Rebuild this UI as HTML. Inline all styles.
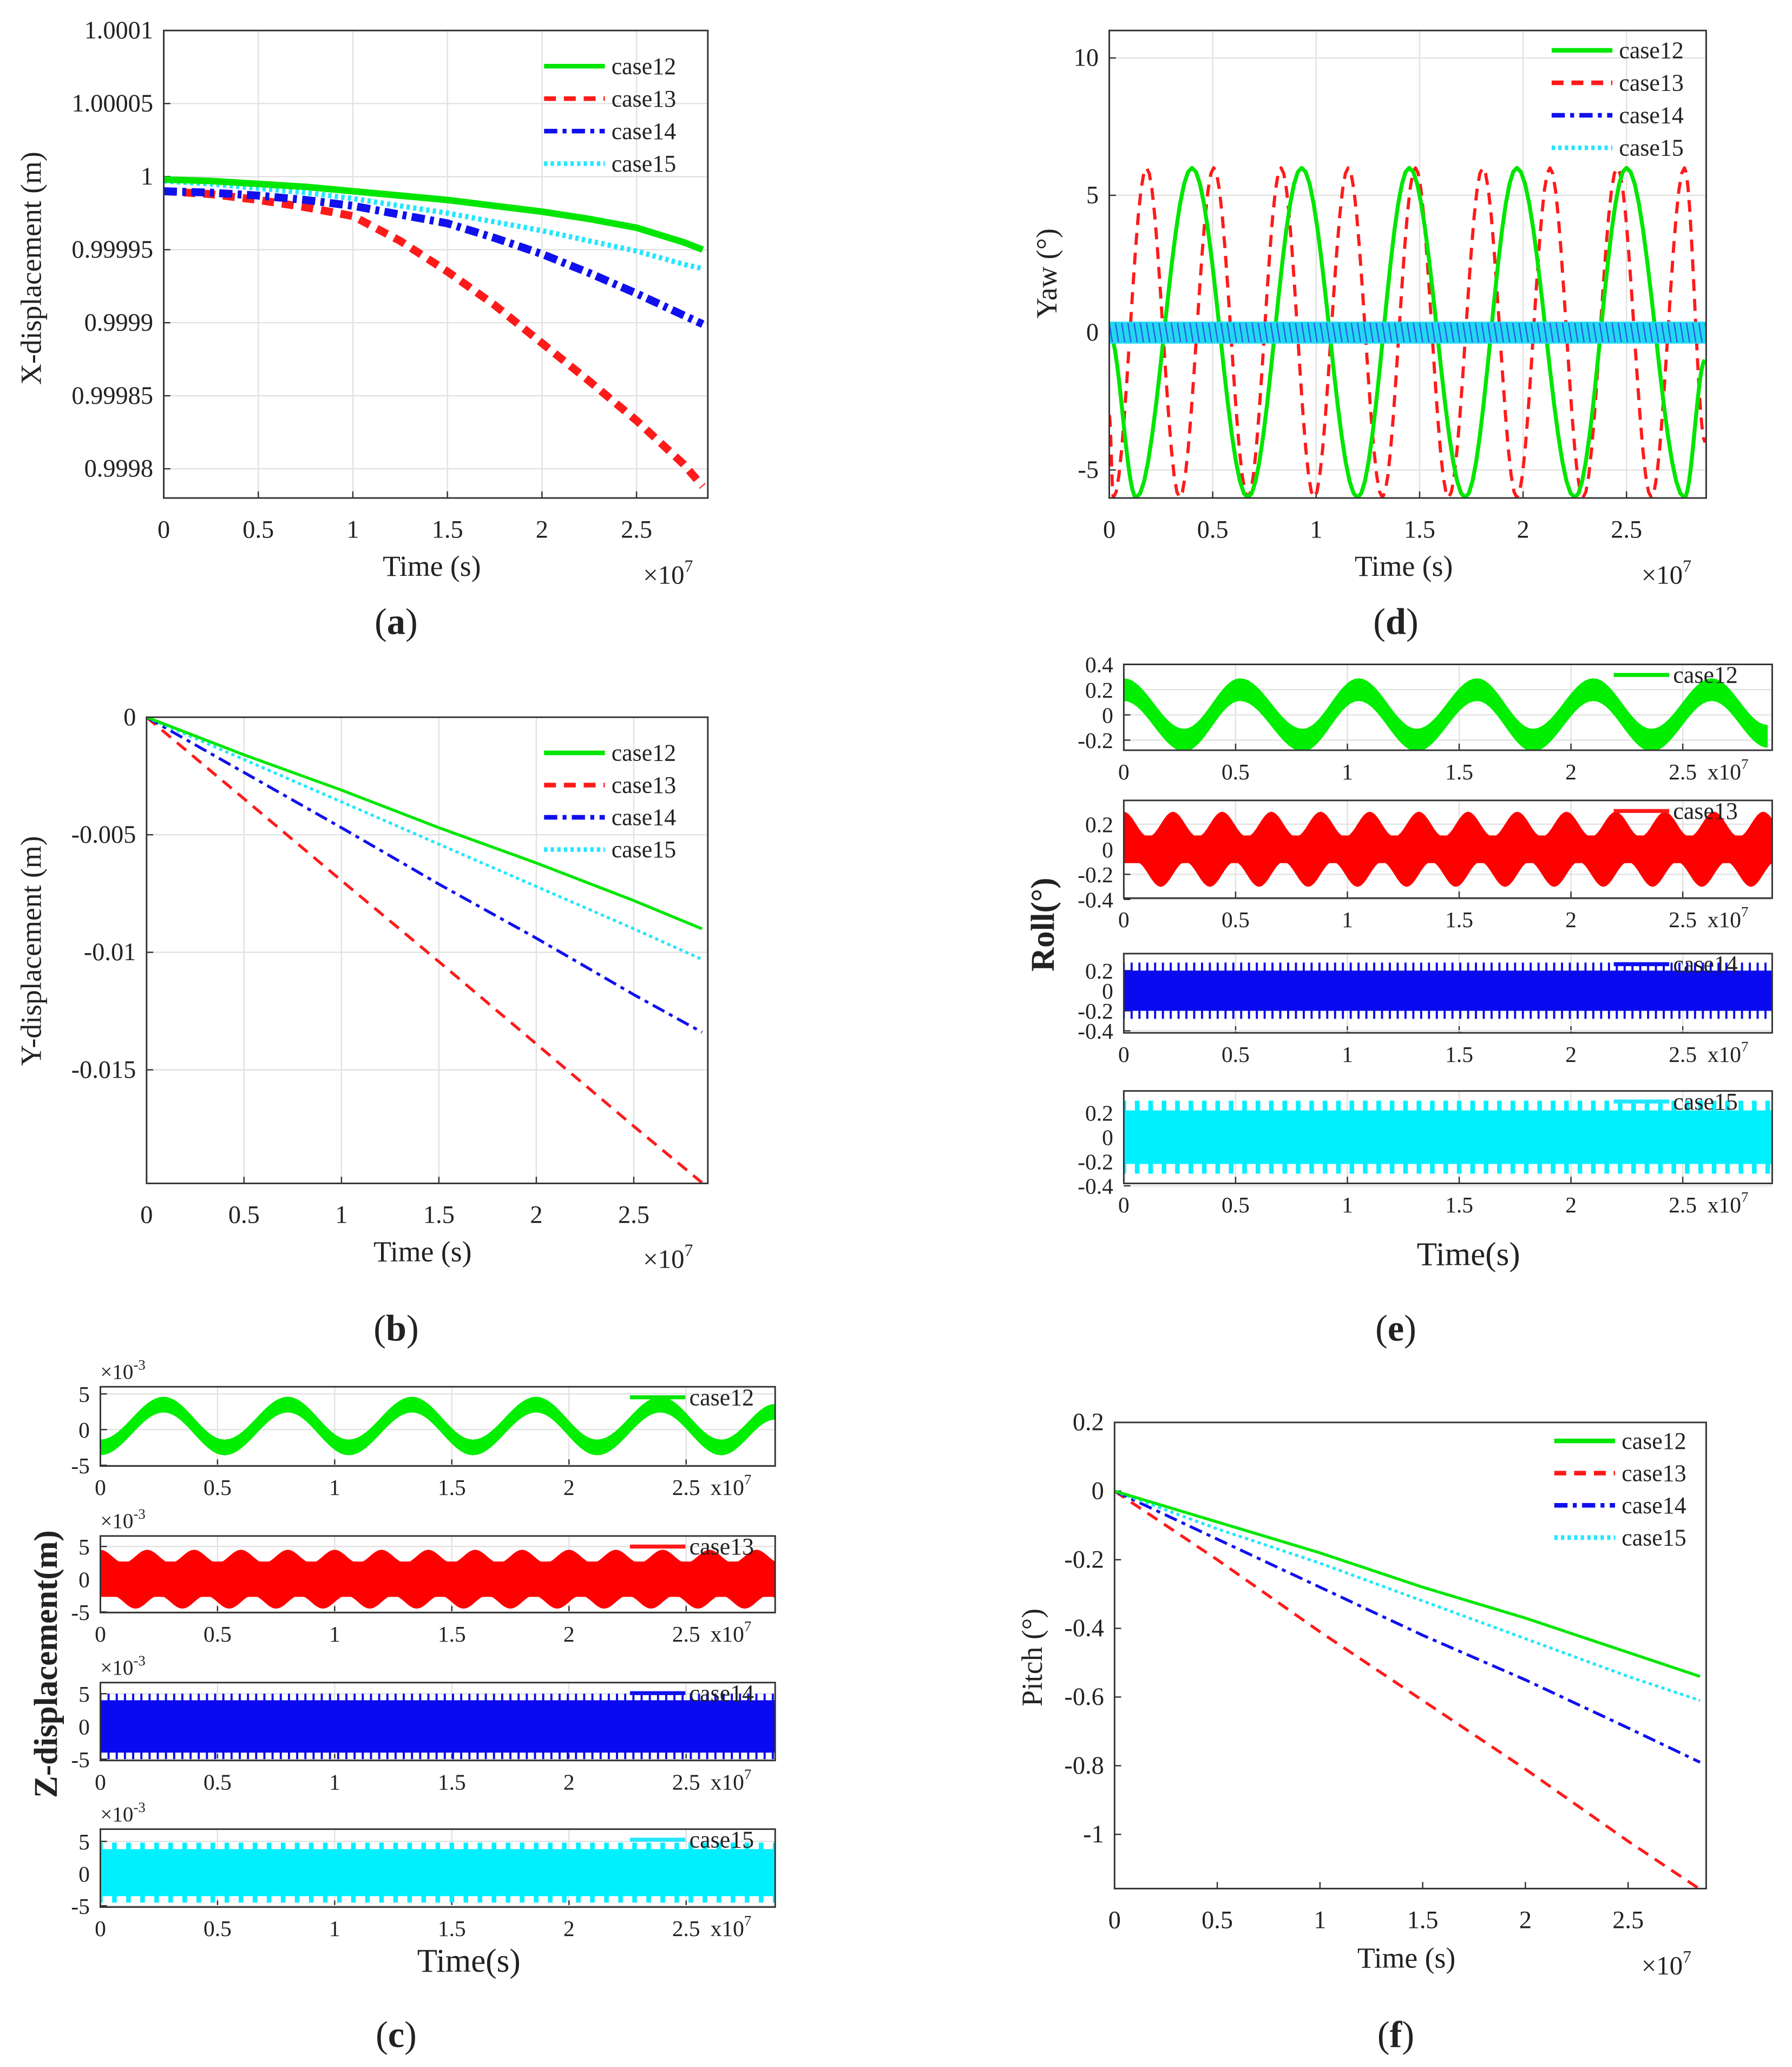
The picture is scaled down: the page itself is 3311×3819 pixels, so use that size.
<!DOCTYPE html>
<html><head><meta charset="utf-8">
<style>
html,body{margin:0;padding:0;background:#fff;}
svg{display:block;font-family:"Liberation Serif",serif;}
text{font-family:"Liberation Serif",serif;fill:#222;}
</style></head>
<body>
<svg id="fig" xmlns="http://www.w3.org/2000/svg" width="3311" height="3819" viewBox="0 0 1357 1565" font-family="Liberation Serif, serif"></svg>
<script>
// ---------- data ----------
const xT = [0,0.5,1,1.5,2,2.5,2.85];
const xTa = [0,0.25,0.5,0.75,1,1.25,1.5,1.75,2,2.25,2.5,2.75,2.85];
const cases = ['case12','case13','case14','case15'];
// (a) X-displacement
const aCase12 = [0.999998,0.999997,0.999995,0.999993,0.99999,0.999987,0.999984,0.99998,0.999976,0.999971,0.999965,0.999955,0.99995];
const aCase13 = [0.99999,0.999988,0.999984,0.999979,0.999973,0.999956,0.999935,0.999912,0.999886,0.99986,0.999833,0.999803,0.999788];
const aCase14 = [0.99999,0.999989,0.999987,0.999984,0.99998,0.999974,0.999968,0.999958,0.999947,0.999934,0.99992,0.999905,0.999899];
const aCase15 = [0.999997,0.999995,0.999992,0.999989,0.999985,0.99998,0.999975,0.999969,0.999963,0.999956,0.999949,0.99994,0.999937];
const aYTicks = [1.0001,1.00005,1,0.99995,0.9999,0.99985,0.9998];
const aYLabels = ['1.0001','1.00005','1','0.99995','0.9999','0.99985','0.9998'];
// (b) Y-displacement
const bCase12 = [0,-0.0016,-0.0031,-0.0047,-0.0062,-0.0078,-0.009];
const bCase13 = [0,-0.00347,-0.00695,-0.0104,-0.0139,-0.0174,-0.0198];
const bCase14 = [0,-0.00235,-0.0047,-0.0071,-0.0094,-0.0118,-0.0134];
const bCase15 = [0,-0.0018,-0.0036,-0.0054,-0.0072,-0.009,-0.0103];
const bYTicks = [0,-0.005,-0.01,-0.015];
const bYLabels = ['0','-0.005','-0.01','-0.015'];
// (f) Pitch
const fCase12 = [0,-0.09,-0.18,-0.28,-0.37,-0.47,-0.54];
const fCase13 = [0,-0.2,-0.41,-0.61,-0.81,-1.02,-1.16];
const fCase14 = [0,-0.14,-0.28,-0.42,-0.55,-0.69,-0.79];
const fCase15 = [0,-0.11,-0.21,-0.32,-0.43,-0.54,-0.61];
const fYTicks = [0.2,0,-0.2,-0.4,-0.6,-0.8,-1];
const fYLabels = ['0.2','0','-0.2','-0.4','-0.6','-0.8','-1'];
// (d) Yaw extrema (time, value)
const dGreenT = [0,0.13,0.4,0.67,0.93,1.2,1.45,1.72,1.97,2.25,2.5,2.78,2.88];
const dGreenV = [0,-6,6,-6,6,-6,6,-6,6,-6,6,-6,-1];
const dRedT = [0,0.02,0.18,0.34,0.505,0.67,0.83,0.99,1.155,1.32,1.48,1.64,1.805,1.97,2.13,2.29,2.455,2.62,2.78,2.88];
const dRedV = [-3,-6,6,-6,6,-6,6,-6,6,-6,6,-6,6,-6,6,-6,6,-6,6,-4];
const dBandHalf = [0.4,0.35];
const dYTicks = [10,5,0,-5];
// (c) Z-displacement (x1e-3)
const cGreenT = [0,0.27,0.53,0.8,1.06,1.33,1.59,1.86,2.12,2.39,2.65,2.88];
const cGreenV = [-2.5,3.5,-2.5,3.5,-2.5,3.5,-2.5,3.5,-2.5,3.5,-2.5,2.5];
const cRedTop = [4.5,2.5];
const cRedBot = [-2.5,-4.5];
const cBlueRange = [-4,4,-5,5];
const cCyanRange = [-3.5,3.8,-4.5,4.8];
// (e) Roll
const eGreenT = [0,0.27,0.52,0.8,1.05,1.31,1.58,1.83,2.1,2.36,2.63,2.88];
const eGreenV = [0.2,-0.2,0.2,-0.2,0.2,-0.2,0.2,-0.2,0.2,-0.2,0.2,-0.17];
const eRedTop = [0.3,0.1];
const eRedBot = [-0.1,-0.3];
const eBlueRange = [-0.2,0.2,-0.28,0.28];
const eCyanRange = [-0.22,0.22,-0.3,0.3];
const xTickVals = [0,0.5,1,1.5,2,2.5];
const xTickLabels = ['0','0.5','1','1.5','2','2.5'];

// ---------- helpers ----------
const NS='http://www.w3.org/2000/svg';
const svg=document.getElementById('fig');
const FF='Liberation Serif, serif';
function mk(tag,attrs,parent){const e=document.createElementNS(NS,tag);for(const k in attrs)e.setAttribute(k,attrs[k]);(parent||svg).appendChild(e);return e;}
function txt(s,x,y,size,anchor,parent,extra){const t=mk('text',Object.assign({x:x,y:y,'font-size':size,'text-anchor':anchor||'middle','font-family':FF},extra||{}),parent);t.textContent=s;return t;}
function axis(x0,x1,xmin,xmax,yb,yt,ymin,ymax){return {X:v=>x0+(v-xmin)/(xmax-xmin)*(x1-x0),Y:v=>yb-(v-ymin)/(ymax-ymin)*(yb-yt),x0,x1,yb,yt};}
const COL={case12:'#00e600',case13:'#ff1a1a',case14:'#1010ee',case15:'#22e6ff'};
const DASH={case12:'',case13:'9,6',case14:'10,4,3,4',case15:'2.5,2.5'};
function cosInterp(T,V,n){const pts=[];for(let i=0;i<T.length-1;i++){for(let k=0;k<n;k++){const f=k/n;pts.push([T[i]+(T[i+1]-T[i])*f,V[i]+(V[i+1]-V[i])*(1-Math.cos(Math.PI*f))/2]);}}pts.push([T[T.length-1],V[V.length-1]]);return pts;}

function frame(g,A,name,grid,yTicks,yLabels,xLabelY,tickFs){
  const G=mk('g',{},g);
  
  
  mk('rect',{x:A.x0,y:A.yt,width:A.x1-A.x0,height:A.yb-A.yt,fill:'#fff'},G);
  xTickVals.forEach((v,i)=>{const x=A.X(v);
    if(grid)mk('line',{x1:x,x2:x,y1:A.yt,y2:A.yb,stroke:'#e2e2e2','stroke-width':1},G);
    mk('line',{x1:x,x2:x,y1:A.yb,y2:A.yb-5,stroke:'#333','stroke-width':1},G);
    const t=txt(xTickLabels[i],x,xLabelY,tickFs,'middle',G);
    
    
  });
  yTicks.forEach((v,i)=>{const y=A.Y(v);
    if(grid)mk('line',{x1:A.x0,x2:A.x1,y1:y,y2:y,stroke:'#e2e2e2','stroke-width':1},G);
    mk('line',{x1:A.x0,x2:A.x0+5,y1:y,y2:y,stroke:'#333','stroke-width':1},G);
    const t=txt(yLabels[i],A.x0-8,y+6,tickFs,'end',G);
    
    
  });
  return G;
}
function border(g,A){mk('rect',{x:A.x0,y:A.yt,width:A.x1-A.x0,height:A.yb-A.yt,fill:'none',stroke:'#333','stroke-width':1.2},g);}
function clip(id,A){const d=mk('clipPath',{id:id});mk('rect',{x:A.x0,y:A.yt,width:A.x1-A.x0,height:A.yb-A.yt},d);return 'url(#'+id+')';}
function line(g,A,xs,ys,c,w,name){const p=mk('polyline',{points:xs.map((x,i)=>A.X(x)+','+A.Y(ys[i])).join(' '),fill:'none',stroke:COL[c],'stroke-width':w,'stroke-dasharray':DASH[c],'stroke-linejoin':'round'},g);
  
  return p;}
function legend(g,x,y0,dy){cases.forEach((c,i)=>{const y=y0+dy*i;
  const G=mk('g',{},g);
  
  
  mk('line',{x1:x,x2:x+46,y1:y,y2:y,stroke:COL[c],'stroke-width':3.5,'stroke-dasharray':DASH[c]},G);
  txt(c,x+51,y+6,18,'start',G);});}
function xExp(x,y,G){const t=txt('×10',x,y,20,'start',G);const s=mk('tspan',{dy:-9,'font-size':13},t);s.textContent='7';}
function caption(s,x,y){const tt=txt('',x,y,28,'middle');tt.innerHTML='(<tspan font-weight="bold">'+s+'</tspan>)';}
function ylab(s,x,y,size,bold){const t=txt(s,x,y,size,'middle',svg,{transform:'rotate(-90 '+x+' '+y+')'});if(bold)t.setAttribute('font-weight','bold');return t;}
function xlab(s,x,y,size){const t=txt(s,x,y,size);}

// ---------- panel a ----------
(function(){const g=mk('g',{});
const A=axis(124,536,0,2.877,377,23,0.99978,1.0001);
frame(g,A,'panel-a',true,aYTicks,aYLabels,407,19);
const pg=mk('g',{'clip-path':clip('ca',A)},g);
line(pg,A,xTa,aCase13,'case13',6,'series-case13');
line(pg,A,xTa,aCase14,'case14',6,'series-case14');
line(pg,A,xTa,aCase15,'case15',4,'series-case15');
line(pg,A,xTa,aCase12,'case12',5,'series-case12');
border(g,A);legend(g,412,50,24.6);xExp(487,442,g);
xlab('Time (s)',327,436,22);ylab('X-displacement (m)',31,203,22);caption('a',300,480);})();

// ---------- panel b ----------
(function(){const g=mk('g',{});
const A=axis(111,536,0,2.88,896,543,-0.01983,0);
frame(g,A,'panel-b',true,bYTicks,bYLabels,926,19);
const pg=mk('g',{'clip-path':clip('cb',A)},g);
line(pg,A,xT,bCase13,'case13',2.2,'series-case13');
line(pg,A,xT,bCase14,'case14',2.2,'series-case14');
line(pg,A,xT,bCase15,'case15',2.2,'series-case15');
line(pg,A,xT,bCase12,'case12',2.2,'series-case12');
border(g,A);legend(g,412,570,24.4);xExp(487,960,g);
xlab('Time (s)',320,955,22);ylab('Y-displacement (m)',31,720,22);caption('b',300,1015);})();

// ---------- panel f ----------
(function(){const g=mk('g',{});
const A=axis(844,1292,0,2.88,1430,1077,-1.158,0.2);
frame(g,A,'panel-f',false,fYTicks,fYLabels,1460,19);
const pg=mk('g',{'clip-path':clip('cf',A)},g);
line(pg,A,xT,fCase13,'case13',2.2,'series-case13');
line(pg,A,xT,fCase14,'case14',2.2,'series-case14');
line(pg,A,xT,fCase15,'case15',2.2,'series-case15');
line(pg,A,xT,fCase12,'case12',2.2,'series-case12');
border(g,A);legend(g,1177,1091,24.4);xExp(1243,1495,g);
xlab('Time (s)',1065,1490,22);ylab('Pitch (°)',789,1255,22);caption('f',1057,1550);})();

// ---------- panel d ----------
(function(){const g=mk('g',{});
const A=axis(840,1292,0,2.885,377,23,-6.02,11);
frame(g,A,'panel-d',true,dYTicks,dYTicks.map(String),407,19);
const pg=mk('g',{'clip-path':clip('cd',A)},g);
const r=cosInterp(dRedT,dRedV,12);line(pg,A,r.map(p=>p[0]),r.map(p=>p[1]),'case13',2.4,'series-case13');
const gr=cosInterp(dGreenT,dGreenV,14);line(pg,A,gr.map(p=>p[0]),gr.map(p=>p[1]),'case12',3,'series-case12');
const band=mk('rect',{x:A.x0,y:A.Y(dBandHalf[0]),width:A.x1-A.x0,height:A.Y(-dBandHalf[0])-A.Y(dBandHalf[0]),fill:'#22d8f0'},pg);


for(let t=0;t<2.9;t+=0.03){mk('line',{x1:A.X(t),x2:A.X(t+0.015),y1:A.Y(dBandHalf[1]),y2:A.Y(-dBandHalf[1]),stroke:'#2a5ae8','stroke-width':1},pg);}
border(g,A);legend(g,1175,38,24.6);xExp(1243,442,g);
xlab('Time (s)',1063,436,22);ylab('Yaw (°)',800,207,22);caption('d',1057,480);})();

// ---------- stacked band subplots ----------
function stacked(prefix,x0,x1,xmax,boxes,yT,yL,ranges,greenT,greenV,greenThick,redTop,redBot,redPer,blueR,cyanR,legX,expo,stackName){
  boxes.forEach((b,k)=>{
    const g=mk('g',{});
    const A=axis(x0,x1,0,xmax,b[1],b[0],ranges[k][0],ranges[k][1]);
    frame(g,A,stackName+'-'+cases[k],true,yT[k],yL[k],b[1]+22,17);
    const pg=mk('g',{'clip-path':clip(prefix+k,A)},g);
    let mark;
    if(k===0){const p=cosInterp(greenT,greenV,14);
      const up=p.map(q=>A.X(q[0])+','+A.Y(q[1]+greenThick));const dn=p.slice().reverse().map(q=>A.X(q[0])+','+A.Y(q[1]-greenThick));
      mark=mk('polygon',{points:up.concat(dn).join(' '),fill:'#00ee00'},pg);}
    else if(k===1){const n=Math.ceil(xmax/redPer)+1;const TT=[],TV=[],BT=[],BV=[];
      for(let i=0;i<=2*n;i++){TT.push(i*redPer/2);TV.push(redTop[i%2]);BT.push(i*redPer/2+redPer/4);BV.push(redBot[i%2]);}
      const up=cosInterp(TT,TV,8).map(q=>A.X(q[0])+','+A.Y(q[1]));const dn=cosInterp(BT,BV,8).reverse().map(q=>A.X(q[0])+','+A.Y(q[1]));
      mark=mk('polygon',{points:up.concat([A.X(xmax+1)+','+A.Y(0),A.X(0)+','+A.Y(0)]).join(' '),fill:'#ff0000'},pg);
      mk('polygon',{points:[A.X(0)+','+A.Y(0),A.X(xmax+1)+','+A.Y(0)].concat(dn).join(' '),fill:'#ff0000'},pg);
      mk('rect',{x:A.x0,y:A.Y(redTop[1])-1,width:A.x1-A.x0,height:A.Y(redBot[0])-A.Y(redTop[1])+2,fill:'#ff0000'},pg);}
    else {const R=k===2?blueR:cyanR;const c=k===2?'#0a0af0':'#00f0ff';
      mark=mk('rect',{x:A.x0,y:A.Y(R[1]),width:A.x1-A.x0+6,height:A.Y(R[0])-A.Y(R[1]),fill:c},pg);
      for(let t=0;t<xmax+0.05;t+=(k===2?0.035:0.06)){mk('line',{x1:A.X(t),x2:A.X(t),y1:A.Y(R[3]),y2:A.Y(R[2]),stroke:c,'stroke-width':k===2?1.6:3.5},pg);}}
    
    
    border(g,A);
    const lg=mk('g',{},g);
    mk('line',{x1:legX,x2:legX+42,y1:b[0]+8,y2:b[0]+8,stroke:[COL.case12,COL.case13,COL.case14,COL.case15][k],'stroke-width':3},lg);
    txt(cases[k],legX+45,b[0]+14,18,'start',lg);
    const ex=txt('x10',x1-49,b[1]+22,17,'start',g);const s=mk('tspan',{dy:-8,'font-size':11},ex);s.textContent='7';
    
    if(expo){const e=txt('×10',x0,b[0]-6,16,'start',g);const s2=mk('tspan',{dy:-7,'font-size':11},e);s2.textContent='-3';
      }
  });
}
const cTicks=[5,0,-5];
stacked('cc',76,587,2.88,[[1050,1110],[1163,1221],[1274,1333],[1385,1444]],[cTicks,cTicks,cTicks,cTicks],[['5','0','-5'],['5','0','-5'],['5','0','-5'],['5','0','-5']],
  [[-5.1,6],[-5.1,6.6],[-5.2,6.7],[-5.2,6.9]],cGreenT,cGreenV,1.1,cRedTop,cRedBot,0.2,cBlueRange,cCyanRange,477,true,'panel-c');
const eT=[[0.4,0.2,0,-0.2],[0.2,0,-0.2,-0.4],[0.2,0,-0.2,-0.4],[0.2,0,-0.2,-0.4]];
stacked('ce',851,1342,2.9,[[503,568],[606,680],[722,782],[826,896]],eT,eT.map(a=>a.map(String)),
  [[-0.28,0.4],[-0.39,0.39],[-0.42,0.37],[-0.38,0.38]],eGreenT,eGreenV,0.09,eRedTop,eRedBot,0.22,eBlueRange,eCyanRange,1222,false,'panel-e');
xlab('Time(s)',355,1493,25);ylab('Z-displacement(m)',43,1260,25,true);caption('c',300,1550);
xlab('Time(s)',1112,958,25);ylab('Roll(°)',798,700,25,true);caption('e',1057,1015);
</script>
</body></html>
